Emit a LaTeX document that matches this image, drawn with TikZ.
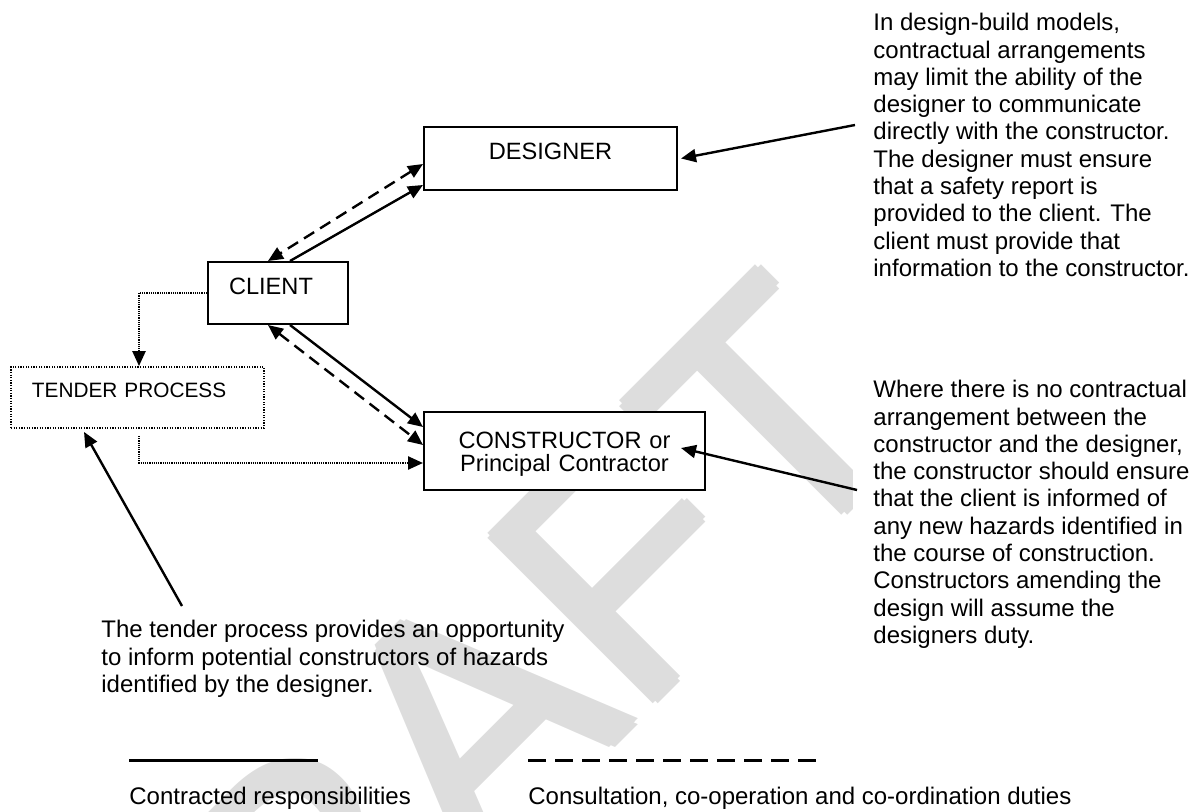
\documentclass[tikz,border=0pt]{standalone}
\usepackage{fontspec}
\setmainfont{Liberation Sans}
\usetikzlibrary{arrows.meta}
\definecolor{wmgray}{RGB}{221,221,221}
\tikzset{
  box/.style={draw, fill=white, line width=1pt, inner ysep=0pt, font=\fontsize{11.8}{11.5}\selectfont},
  note/.style={anchor=north west, fill=white, inner sep=10pt, align=left, font=\fontsize{12}{13.65}\selectfont},
  legendtext/.style={anchor=north west, inner sep=0pt, font=\fontsize{12}{13.65}\selectfont},
  watermark/.style={wmgray, rotate=45, anchor=base east, inner sep=0pt, font=\fontsize{170}{170}\selectfont},
  tip/.style={-{Triangle[length=7.5pt,width=6.5pt]}},
  contract/.style={tip, line width=1.2pt},
  consult/.style={line width=1.2pt, dash pattern=on 6pt off 3.5pt, {Triangle[length=7.5pt,width=6.5pt]}-{Triangle[length=7.5pt,width=6.5pt]}},
  tenderline/.style={tip, line width=1.2pt, dash pattern=on 0.6pt off 0.5pt},
  pointer/.style={tip, line width=1.2pt}
}
\begin{document}
\begin{tikzpicture}[x=0.5pt, y=-0.5pt]
	\useasboundingbox (0,0) rectangle (1204,812);

	% watermark, drawn a few times to thicken the strokes
	\begin{scope}
		\clip (0,0) rectangle (1204,812);
		\foreach \dx/\dy [count=\i] in {0/0, 2/0, -2/0, 0/2, 0/-2}
			\node[watermark, xshift=\dx pt, yshift=\dy pt] (draft\i) at (930,427) {DRAFT};
	\end{scope}

	% side notes
	\node[note] (designnote) at (853,-7) {In design-build models,\\contractual arrangements\\may limit the ability of the\\designer to communicate\\directly with the constructor.\\The designer must ensure\\that a safety report is\\provided to the client. The\\client must provide that\\information to the constructor.};
	\node[note] (constructnote) at (853,360) {Where there is no contractual\\arrangement between the\\constructor and the designer,\\the constructor should ensure\\that the client is informed of\\any new hazards identified in\\the course of construction.\\Constructors amending the\\design will assume the\\designers duty.};
	\node[note, fill=none] (tendernote) at (81,600) {The tender process provides an opportunity\\to inform potential constructors of hazards\\identified by the designer.};

	% parties
	\node[box, minimum width=126.5pt, text height=16.5pt, text depth=15pt] (designer) at (550.5,158.5) {DESIGNER};
	\node[box, text width=49pt, inner xsep=10.5pt, text height=16.5pt, text depth=14.5pt] (client) at (278,293) {CLIENT};
	\node[box, line width=0.9pt, dash pattern=on 0.6pt off 0.7pt, font=\fontsize{10.4}{12}\selectfont, text width=105.5pt, inner xsep=10.5pt, text height=15.5pt, text depth=15pt] (tender) at (137.5,397.5) {TENDER PROCESS};
	\node[box, text width=140.5pt, inner xsep=0pt, align=center, text height=18pt, text depth=21pt] (constructor) at (564.5,451) {CONSTRUCTOR or\\Principal Contractor};

	% duties
	\draw[consult] ([yshift=-2.75pt]designer.west) -- ([xshift=-5pt]client.north);
	\draw[contract] ([xshift=6pt]client.north) -- ([yshift=-13.25pt]designer.west);
	\draw[contract] ([xshift=6pt]client.south) -- ([yshift=12pt]constructor.west);
	\draw[consult] ([xshift=-5pt]client.south) -- ([yshift=3pt]constructor.west);
	\draw[tenderline] (client.west) -| ([xshift=0.75pt]tender.north);
	\draw[tenderline] ([xshift=0.75pt, yshift=-3.5pt]tender.south) |- ([yshift=-6pt]constructor.west);

	% pointers from the notes
	\coordinate (designtail) at (855,125);
	\coordinate (constructtail) at (857,490);
	\coordinate (tendertail) at (182,606);
	\draw[pointer] (designtail) -- ([xshift=1.5pt]designer.east);
	\draw[pointer] (constructtail) -- ([xshift=-12.5pt, yshift=1.5pt]constructor.east);
	\draw[pointer] (tendertail) -- ([xshift=-26.75pt, yshift=-1.5pt]tender.south);

	% legend
	\draw[line width=1.5pt] (129,760) -- (318,760);
	\draw[line width=1.5pt, dash pattern=on 9pt off 4.5pt] (528,760) -- (822,760);
	\node[legendtext] (contracted) at (129,787) {Contracted responsibilities};
	\node[legendtext] (consultation) at (528,787) {Consultation, co-operation and co-ordination duties};
\end{tikzpicture}
\end{document}
